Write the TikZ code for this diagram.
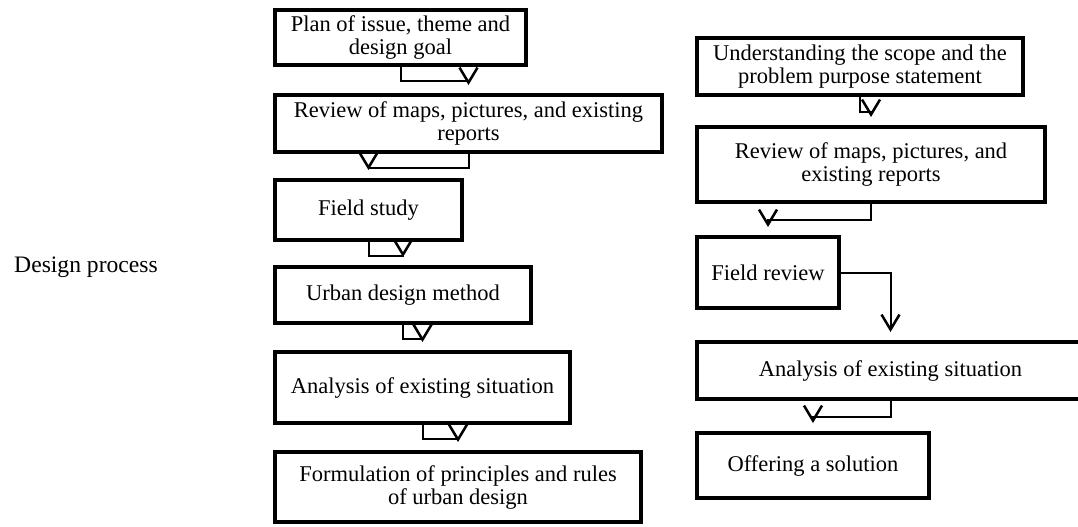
\documentclass[tikz,border=0pt]{standalone}
\usepackage{fontspec}
\setmainfont{Liberation Serif}
\usetikzlibrary{arrows.meta}

\begin{document}
\begin{tikzpicture}[x=0.5pt,y=-0.5pt,
    stage/.style={draw,line width=2pt,inner sep=0pt,align=center,
        font=\fontsize{11.25}{11.5}\selectfont},
    flow/.style={line width=1pt,-{Straight Barb[length=7.5pt,width=9pt,line width=1.25pt]},
        shorten >=4pt}]
        \useasboundingbox (0,0) rectangle (1078,526);
        \node[font=\fontsize{11.8}{12}\selectfont] (title) at (86,267) {Design process};
        % Left column
        \node[stage,minimum width=251*0.5pt,minimum height=55*0.5pt] (plan) at (400.5,37.5)
            {Plan of issue, theme and\\design goal};
        \node[stage,minimum width=387*0.5pt,minimum height=57*0.5pt] (maps) at (468.5,123.5)
            {Review of maps, pictures, and existing\\reports};
        \node[stage,minimum width=187*0.5pt,minimum height=60*0.5pt] (study) at (368.5,210)
            {Field study};
        \node[stage,minimum width=256*0.5pt,minimum height=56*0.5pt] (method) at (403,295)
            {Urban design method};
        \node[stage,minimum width=295*0.5pt,minimum height=71*0.5pt] (analysis) at (422.5,387.5)
            {Analysis of existing situation};
        \node[stage,minimum width=366*0.5pt,minimum height=70*0.5pt] (rules) at (458,487)
            {Formulation of principles and rules\\of urban design};
        % Right column
        \node[stage,minimum width=326*0.5pt,minimum height=57*0.5pt] (scope) at (860,66.5)
            {Understanding the scope and the\\problem purpose statement};
        \node[stage,minimum width=348*0.5pt,minimum height=75*0.5pt] (reports) at (871,164.5)
            {Review of maps, pictures, and\\existing reports};
        \node[stage,minimum width=142*0.5pt,minimum height=71*0.5pt] (review) at (768,272.5)
            {Field review};
        \node[stage,minimum width=387*0.5pt,minimum height=57*0.5pt] (situation) at (890.5,370.5)
            {Analysis of existing situation};
        \node[stage,minimum width=232*0.5pt,minimum height=65*0.5pt] (solution) at (813,465.5)
            {Offering a solution};
        % Steps, left
        \draw[flow] (plan.south) -- ++(0,14) -| (maps.north);
        \draw[flow] (maps.south) -- ++(0,14) -| (study.north);
        \draw[flow] (study.south) -- ++(0,14) -| (method.north);
        \draw[flow] (method.south) -- ++(0,14) -| (analysis.north);
        \draw[flow] (analysis.south) -- ++(0,14) -| (rules.north);
        % Steps, right
        \draw[flow] (scope.south) -- ++(0,15) -| (reports.north);
        \draw[flow] (reports.south) -- ++(0,16) -| (review.north);
        \draw[flow] (review.east) -| (situation.north);
        \draw[flow] (situation.south) -- ++(0,16) -| (solution.north);
    \end{tikzpicture}
\end{document}
